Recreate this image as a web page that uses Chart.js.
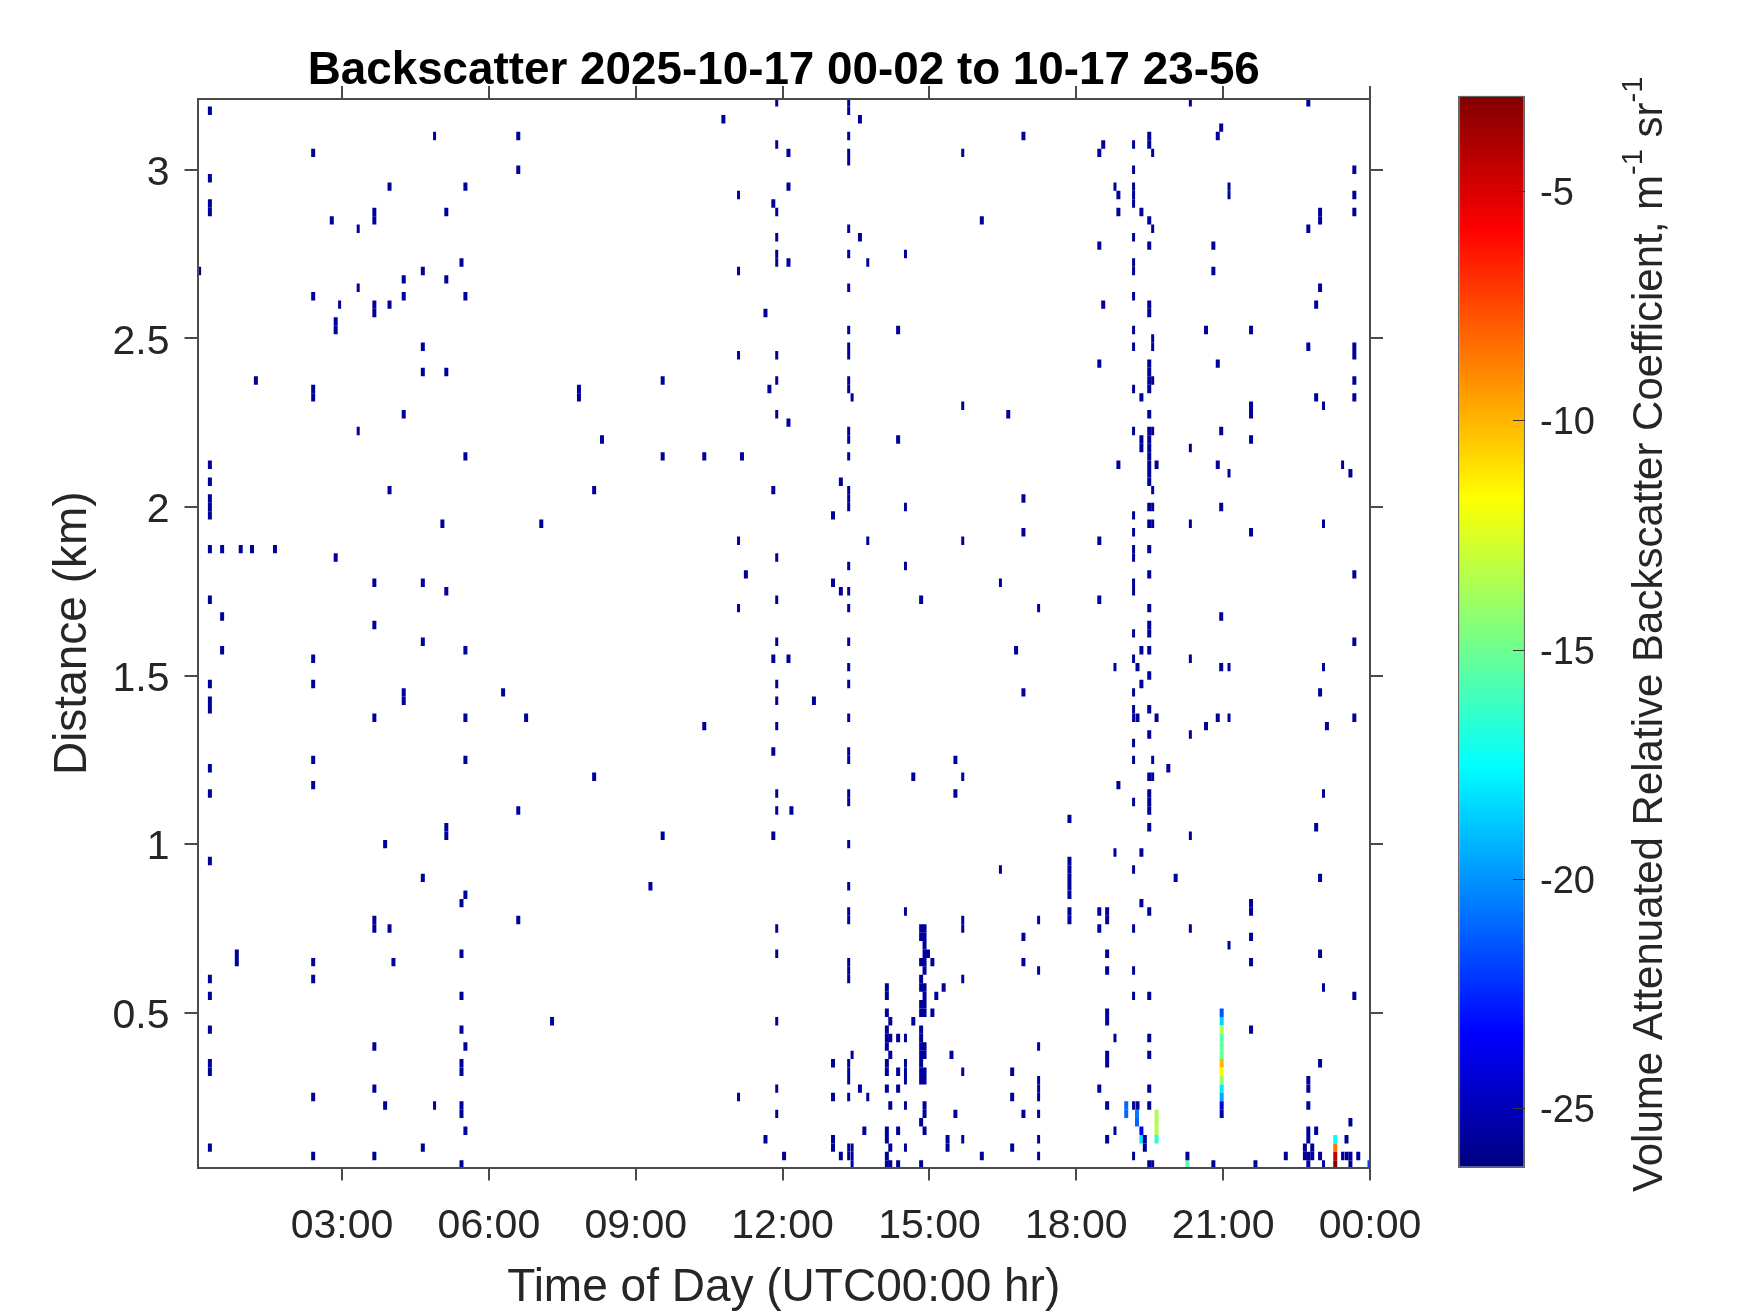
<!DOCTYPE html>
<html>
<head>
<meta charset="utf-8">
<style>
html,body{margin:0;padding:0;background:#fff;width:1750px;height:1313px;overflow:hidden}
canvas{position:absolute;left:0;top:0}
</style>
<script src="https://cdn.jsdelivr.net/npm/chart.js@4"></script>
</head>
<body>
<canvas id="main" width="1750" height="1313"></canvas>
<canvas id="bar" width="1750" height="1313"></canvas>
<script>
const chartTitle = 'Backscatter 2025-10-17 00-02 to 10-17 23-56';
const xAxisTitle = 'Time of Day (UTC00:00 hr)';
const yAxisTitle = 'Distance (km)';
const colorbarTitle = [['Volume Attenuated Relative Backscatter Coefficient, m',false],['-1',true],[' sr',false],['-1',true]];
const xTickHours = [3,6,9,12,15,18,21,24];
const xTickLabels = ['03:00','06:00','09:00','12:00','15:00','18:00','21:00','00:00'];
const yTickKm = [0.5,1,1.5,2,2.5,3];
const yTickLabels = ['0.5','1','1.5','2','2.5','3'];
const colorTicks = [-5,-10,-15,-20,-25];
const colorRange = [-26.3,-2.9];
const gateKm = 0.025;
const weakValue = -25.7;

const columnHours = [0.08,0.30,0.55,0.85,0.93,1.16,1.24,1.63,2.41,2.79,2.87,2.95,3.33,3.66,3.88,3.97,4.05,4.26,4.65,4.89,5.05,5.13,5.44,5.52,6.29,6.60,6.76,7.07,7.29,7.84,8.15,8.31,9.30,9.55,10.40,10.79,11.10,11.17,11.25,11.65,11.73,11.81,11.88,12.03,12.12,12.18,12.64,13.03,13.19,13.35,13.42,13.58,13.67,13.74,14.13,14.20,14.36,14.51,14.67,14.83,14.90,14.97,15.06,15.14,15.29,15.37,15.45,15.53,15.68,16.07,16.45,16.61,16.69,16.77,16.92,17.23,17.86,18.47,18.55,18.63,18.79,18.86,19.17,19.25,19.33,19.40,19.49,19.56,19.64,19.88,20.03,20.27,20.33,20.65,20.80,20.89,20.96,21.12,21.57,21.66,22.28,22.67,22.74,22.82,22.90,22.98,23.05,23.12,23.44,23.52,23.60,23.68,23.76];
const columnKm = [
[2.7],
[3.175,2.975,2.9,2.875,2.125,2.075,2.025,2.0,1.975,1.875,1.725,1.475,1.425,1.4,1.225,1.15,0.95,0.6,0.55,0.45,0.35,0.325,0.1],
[1.875,1.675,1.575],
[0.675,0.65],
[1.875],
[1.875],
[2.375],
[1.875],
[3.05,2.625,2.35,2.325,1.55,1.475,1.25,1.175,0.65,0.6,0.25,0.075],
[2.85],
[2.55,2.525,1.85],
[2.6],
[2.825,2.65,2.225],
[2.875,2.85,2.6,2.575,1.775,1.65,1.375,0.775,0.75,0.4,0.275,0.075],
[1.0,0.225],
[2.95,2.6,2.05,0.75],
[0.65],
[2.675,2.625,2.275,1.45,1.425],
[2.7,2.475,2.4,1.775,1.6,0.9,0.1],
[3.1,0.225],
[1.95],
[2.875,2.675,2.4,1.75,1.05,1.025],
[2.725,0.825,0.675,0.55,0.45,0.35,0.325,0.225,0.2,0.05],
[2.95,2.625,2.15,1.575,1.375,1.25,0.85,0.4,0.15],
[1.45],
[3.1,3.0,1.1,0.775],
[1.375],
[1.95],
[0.475],
[2.35,2.325],
[2.05,1.2],
[2.2],
[0.875],
[2.375,2.15,1.025],
[2.15,1.35],
[3.15],
[2.925,2.7,2.45,1.9,1.7,0.25],
[2.15],
[1.8],
[2.575,0.125],
[2.35],
[2.9,2.05,1.55,1.275,1.025],
[3.2,3.075,2.875,2.8,2.75,2.725,2.45,2.375,2.275,1.85,1.725,1.6,1.475,1.425,1.35,1.15,1.1,0.75,0.675,0.475,0.275,0.2],
[0.075],
[3.05,2.95,2.725,2.25,1.55],
[1.1],
[1.425],
[1.975,1.775,0.35,0.25,0.125,0.1],
[2.075,1.75,0.075],
[3.2,3.175,3.1,3.05,3.025,2.825,2.75,2.65,2.525,2.475,2.45,2.375,2.35,2.225,2.2,2.15,2.05,2.025,2.0,1.825,1.75,1.7,1.6,1.525,1.475,1.375,1.275,1.25,1.15,1.125,1.0,0.875,0.8,0.775,0.65,0.625,0.6,0.35,0.325,0.3,0.25,0.1,0.075],
[2.325,0.375,0.1,0.075,0.05],
[3.15,2.8,0.275],
[0.15],
[2.725,1.9,0.25],
[0.575,0.55,0.5,0.45,0.425,0.4,0.35,0.325,0.275,0.15,0.125,0.075,0.05],
[0.475,0.425,0.375,0.225,0.1,0.05],
[2.525,2.2,0.425,0.325,0.275,0.15,0.05],
[2.75,2.0,1.825,0.8,0.425,0.35,0.325,0.3,0.225,0.1],
[1.2,0.475],
[1.725,0.75,0.725,0.65,0.6,0.575,0.525,0.5,0.45,0.425,0.4,0.375,0.35,0.325,0.3,0.175,0.05],
[0.75,0.725,0.7,0.675,0.65,0.625,0.575,0.55,0.525,0.5,0.4,0.375,0.325,0.3,0.225,0.2,0.15],
[0.675],
[0.65,0.5],
[0.55],
[0.575],
[0.125,0.1],
[0.375],
[1.25,1.15,0.2],
[3.05,2.3,1.9,1.2,0.775,0.75,0.6,0.325,0.125],
[2.85,0.075],
[1.775,0.925],
[2.275],
[0.325,0.25,0.1],
[1.575],
[3.1,2.025,1.925,1.45,0.725,0.65,0.2],
[1.7,0.775,0.625,0.4,0.3,0.275,0.25,0.2,0.125,0.075],
[1.075,0.95,0.925,0.9,0.875,0.85,0.8,0.775],
[3.05,2.775,2.425,1.9,1.725,0.8,0.75,0.275],
[3.075,2.6],
[0.8,0.775,0.675,0.625,0.5,0.475,0.375,0.35,0.225,0.125],
[2.95,1.525,0.975,0.425,0.15],
[2.925,2.875,2.125,1.175],
[3.075,3.0,2.95,2.925,2.9,2.8,2.725,2.7,2.625,2.525,2.475,2.35,2.225,1.975,1.925,1.875,1.85,1.775,1.75,1.625,1.55,1.45,1.4,1.375,1.3,1.25,1.125,0.925,0.75,0.625,0.55,0.225,0.075],
[1.525,1.375,0.225],
[2.875,2.325,2.2,2.175,1.575,1.475,0.975,0.825],
[0.125,0.1],
[3.1,3.075,2.85,2.775,2.6,2.575,2.425,2.4,2.375,2.35,2.275,2.225,2.2,2.175,2.15,2.125,2.1,2.075,2.0,1.95,1.875,1.8,1.7,1.65,1.625,1.575,1.5,1.4,1.325,1.2,1.15,1.125,1.1,1.05,0.8,0.55,0.425,0.375,0.275,0.225,0.05],
[3.05,2.825,2.5,2.475,2.375,2.225,2.05,2.0,1.95,1.25,1.2,0.05],
[2.125,1.375],
[1.225],
[0.9],
[0.075],
[3.2,2.175,1.95,1.55,1.325,1.025,0.75],
[2.525,1.35],
[2.775,2.7,0.05],
[3.1,2.425,2.125,1.375],
[3.125,2.225,2.0,1.675,1.525],
[2.95,2.925,2.1,1.525,1.375,0.7],
[2.525,2.3,2.275,2.2,1.925,0.825,0.8,0.725,0.65,0.45],
[0.05],
[0.075],
[0.1,0.075],
[3.2,2.825,2.475,0.3,0.275,0.225,0.15,0.125,0.075,0.05],
[0.1,0.075],
[2.6,2.325,1.05,0.15],
[2.875,2.85,2.65,1.45,0.9,0.675,0.35,0.075],
[2.3,1.95,1.525,1.15,0.575,0.05],
[1.35],
[2.125,0.075],
[0.125,0.075],
[2.1,0.175,0.075,0.05],
[3.0,2.925,2.875,2.475,2.45,2.375,2.325,1.8,1.6,1.375,0.55],
[0.075]
];
const narrowColumns = [2.95,3.33,4.89,11.10,11.88,13.35,13.42,13.74,14.51,15.68,16.45,17.23,18.79,19.17,19.56,20.33,21.12,23.05,23.44];

const strongHours = [19.02,19.02,19.24,19.24,19.33,19.33,19.64,19.64,19.64,19.64,20.27,20.97,20.97,20.97,20.97,20.97,20.97,20.97,20.97,20.97,20.97,20.97,20.97,20.97,23.29,23.29,23.29,23.29,23.99];
const strongKm = [0.225,0.2,0.2,0.175,0.15,0.125,0.2,0.175,0.15,0.125,0.05,0.5,0.475,0.45,0.425,0.4,0.375,0.35,0.325,0.3,0.275,0.25,0.225,0.2,0.125,0.1,0.075,0.05,0.05];
const strongDb = [-21,-21,-20.5,-21,-23.5,-18,-13.5,-13.5,-13.5,-16.5,-15.5,-21.5,-18.5,-13.5,-15.5,-15.5,-15,-10,-11.5,-14,-18,-19.5,-24.5,-25,-17.5,-8.5,-4.5,-3,-22];

const jetStops = [[0,0,0,.5],[.125,0,0,1],[.375,0,1,1],[.625,1,1,0],[.875,1,0,0],[1,.5,0,0]];
function jetAt(t){
  t=Math.max(0,Math.min(1,t));
  for(let i=1;i<jetStops.length;i++){
    const a=jetStops[i-1],b=jetStops[i];
    if(t<=b[0]){const f=(t-a[0])/(b[0]-a[0]);
      return 'rgb('+[1,2,3].map(k=>Math.round(255*(a[k]+(b[k]-a[k])*f))).join(',')+')';}
  }
}
const jet = v => jetAt((v-colorRange[0])/(colorRange[1]-colorRange[0]));
const cell = (h,km) => ({x:h,y:[km-gateKm/2,km+gateKm/2]});

const regularCells=[], narrowCells=[];
columnHours.forEach((h,i)=>{
  const target = narrowColumns.includes(h) ? narrowCells : regularCells;
  columnKm[i].forEach(km=>target.push(cell(h,km)));
});
const strongCells = strongHours.map((h,i)=>cell(h,strongKm[i]));

const AXIS='#4a4a4a', TEXT='#262626', FONT='"Liberation Sans", Arial, sans-serif';
const sized = (prop,val)=>(s)=>{s[prop]=val;};
const fixedTicks = vals => (s)=>{s.ticks=vals.map(v=>({value:v}));};
const axisGrid = {drawOnChartArea:false,color:AXIS,lineWidth:2,tickLength:13,tickWidth:2,tickColor:AXIS,z:1};
const axisBorder = {color:AXIS,width:2,z:1};
const nudgeLabels = (id,dy)=>({id:'nudge'+id,beforeDraw(chart){
  chart.scales[id].getLabelItems().forEach(i=>{i.options.translation[1]+=dy;});
}});

Chart.defaults.font.family = FONT;

new Chart(document.getElementById('main'),{
  type:'bar',
  data:{datasets:[
    {data:regularCells,backgroundColor:jet(weakValue),barThickness:4,grouped:false,inflateAmount:0,borderWidth:0},
    {data:narrowCells,backgroundColor:jet(weakValue),barThickness:3,grouped:false,inflateAmount:0,borderWidth:0},
    {data:strongCells,backgroundColor:strongDb.map(jet),barThickness:4,grouped:false,inflateAmount:0,borderWidth:0}
  ]},
  options:{
    responsive:false,animation:false,devicePixelRatio:1,
    layout:{padding:0},
    plugins:{
      legend:{display:false},tooltip:{enabled:false},
      title:{display:true,text:chartTitle,fullSize:false,color:'#000',font:{size:45.8,weight:'bold',family:FONT},padding:{top:44,bottom:0}}
    },
    scales:{
      x:{type:'linear',position:'bottom',min:0.047,max:24,offset:false,
        grid:{...axisGrid,offset:false},border:axisBorder,
        afterBuildTicks:fixedTicks(xTickHours),afterFit:sized('height',145.5),
        ticks:{autoSkip:false,maxRotation:0,color:TEXT,font:{size:41},padding:22,callback:v=>xTickLabels[xTickHours.indexOf(v)]},
        title:{display:true,text:xAxisTitle,color:TEXT,font:{size:46},padding:{top:0,bottom:-3}}},
      x2:{type:'linear',position:'top',min:0.047,max:24,offset:false,
        grid:{...axisGrid,offset:false},border:axisBorder,
        afterBuildTicks:fixedTicks(xTickHours),afterFit:sized('height',0),
        ticks:{display:false}},
      y:{type:'linear',position:'left',min:0.041,max:3.21,
        grid:axisGrid,border:axisBorder,
        afterBuildTicks:fixedTicks(yTickKm),afterFit:sized('width',197.5),
        ticks:{autoSkip:false,color:TEXT,font:{size:41},padding:15,callback:v=>yTickLabels[yTickKm.indexOf(v)]},
        title:{display:true,text:yAxisTitle,color:TEXT,font:{size:46},padding:{top:46,bottom:0}}},
      y2:{type:'linear',position:'right',min:0.041,max:3.21,
        grid:axisGrid,border:axisBorder,
        afterBuildTicks:fixedTicks(yTickKm),afterFit:sized('width',380),
        ticks:{display:false}}
    }
  },
  plugins:[nudgeLabels('y',4)]
});

const colorbarTitlePlugin = {
  id:'colorbarTitle',
  afterDraw(chart){
    const c=chart.ctx;
    const baseSize=42, supSize=29, baseX=1662, bottomY=1192;
    c.save();
    c.translate(baseX,bottomY);
    c.rotate(-Math.PI/2);
    c.fillStyle=TEXT;c.textBaseline='alphabetic';c.textAlign='left';
    let pos=0;
    colorbarTitle.forEach(([text,sup])=>{
      c.font=(sup?supSize:baseSize)+'px '+FONT;
      c.fillText(text,pos,sup?-20:0);
      pos+=c.measureText(text).width;
    });
    c.restore();
  }
};

new Chart(document.getElementById('bar'),{
  type:'bar',
  data:{labels:['colour'],datasets:[{
    data:[colorRange],
    barPercentage:1,categoryPercentage:1,inflateAmount:0,
    borderColor:'#666',borderWidth:1.5,borderSkipped:false,
    backgroundColor(ctx){
      const a=ctx.chart.chartArea; if(!a) return '#00f';
      const g=ctx.chart.ctx.createLinearGradient(0,a.bottom,0,a.top);
      jetStops.forEach(s=>g.addColorStop(s[0],jetAt(s[0])));
      return g;
    }
  }]},
  options:{
    responsive:false,animation:false,devicePixelRatio:1,
    layout:{padding:{left:1458,right:0,top:95.5,bottom:145}},
    plugins:{legend:{display:false},tooltip:{enabled:false},title:{display:false}},
    scales:{
      x:{display:false},
      y:{type:'linear',position:'right',min:colorRange[0],max:colorRange[1],
        grid:{drawOnChartArea:false,color:'#333',lineWidth:1,tickLength:-12,tickWidth:1,tickColor:'#333',z:1},
        border:{display:false},
        afterBuildTicks:fixedTicks(colorTicks),afterFit:sized('width',225),
        ticks:{autoSkip:false,color:TEXT,font:{size:38},padding:27,callback:v=>String(v)}}
    }
  },
  plugins:[colorbarTitlePlugin,nudgeLabels('y',3)]
});
</script>
</body>
</html>
